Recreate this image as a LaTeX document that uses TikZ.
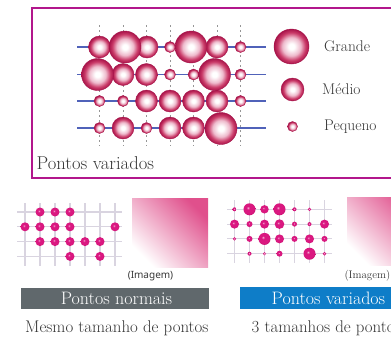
\documentclass[tikz,border=0pt]{standalone}
\usepackage{fontspec}
\newfontfamily\notosans{Noto Sans}
\definecolor{framecol}{RGB}{178,22,140}
\definecolor{bluel}{RGB}{80,98,185}
\definecolor{dashc}{RGB}{150,150,150}
\definecolor{ringlight}{RGB}{238,186,204}
\definecolor{ringmid}{RGB}{202,58,104}
\definecolor{ringdark}{RGB}{168,20,74}
\definecolor{gridc}{RGB}{217,212,224}
\definecolor{dotlight}{RGB}{248,190,220}
\definecolor{dotmag}{RGB}{218,24,128}
\definecolor{dotdark}{RGB}{176,10,96}
\definecolor{gradpink}{RGB}{224,80,140}
\definecolor{grayb}{RGB}{96,104,108}
\definecolor{blueb}{RGB}{14,125,200}
\definecolor{textc}{RGB}{55,55,55}
\pgfdeclareradialshading{pinkring}{\pgfpoint{0bp}{0bp}}{color(0bp)=(white); color(4bp)=(white); color(13bp)=(ringlight); color(20bp)=(ringmid); color(25bp)=(ringdark); color(50bp)=(ringdark)}
\pgfdeclareradialshading{magball}{\pgfpoint{-7bp}{7bp}}{color(0bp)=(dotlight); color(6bp)=(dotmag); color(22bp)=(dotmag); color(34bp)=(dotdark); color(50bp)=(dotdark)}
\tikzset{
  ring/.style={shading=pinkring, draw=ringdark, line width=0.4pt},
  mball/.style={shading=magball},
  gridline/.style={gridc, line width=1.1pt},
  frameline/.style={framecol, line width=2pt},
  txt/.style={inner sep=0pt, text=textc},
  legendtxt/.style={inner sep=0pt, anchor=west, text=textc, font=\fontsize{15.5}{18}\selectfont},
  bartxt/.style={inner sep=0pt, text=white, font=\fontsize{18}{20}\selectfont},
  captxt/.style={inner sep=0pt, anchor=west, text=textc, font=\fontsize{16.9}{19}\selectfont},
  gradsq/.style={top color=gradpink, bottom color=white, shading angle=-45}
}
\begin{document}
\begin{tikzpicture}[x=1pt,y=-1pt]
\clip (0,0) rectangle (391,338);
\fill[white] (0,0) rectangle (391,338);

% ---- top panel ----
\coordinate (ftl) at (31.5,7.5);
\coordinate (ftr) at (400,7.5);
\coordinate (fbl) at (31.5,178);
\coordinate (fbr) at (400,178);
\draw[frameline] (ftr) -- (ftl) -- (fbl) -- (fbr);
\foreach \x in {99.5,123,146.5,170,193.5,217,240.5}
  \draw[dashc, line width=0.8pt, dash pattern=on 2pt off 3pt] (\x,25) -- (\x,146);
\foreach \y in {47,74.5,101,128}
  \draw[bluel, line width=1.8pt] (77,\y) -- (266,\y);
% small
\foreach \x/\y in {170/47, 240.5/47, 170/74.5, 193.5/74.5, 240.5/74.5, 99.5/101, 123/101, 240.5/101, 99.5/128, 146.5/128}
  \shade[ring] (\x,\y) circle[radius=5.5pt];
% medium
\foreach \x/\y in {99.5/47, 147/47, 217/47, 123/74.5, 146.5/74.5, 146.5/101, 170/101, 193.5/101, 217/101, 123/128, 170/128, 193.5/128}
  \shade[ring] (\x,\y) circle[radius=11pt];
% large
\foreach \x/\y in {125/47, 191/47, 97.5/74.5, 214.5/74.5, 221/128.5}
  \shade[ring] (\x,\y) circle[radius=16pt];
% legend
\shade[ring] (291.5,46.5) circle[radius=17.5pt];
\shade[ring] (292.5,89.5) circle[radius=11.5pt];
\shade[ring] (292.5,126.5) circle[radius=5pt];
\node[legendtxt] (lg) at (324,46.5) {Grande};
\node[legendtxt] (lm) at (322,89) {Médio};
\node[legendtxt] (lp) at (324,127) {Pequeno};
\node[txt, anchor=base west, font=\fontsize{18.6}{21}\selectfont] (toptitle) at (36.5,169.5) {Pontos variados};

% ---- bottom left ----
\foreach \x in {25,40,55,70,85,100,115}
  \draw[gridline] (\x,203) -- (\x,266);
\foreach \y in {212,226.8,241.6,256.4}
  \draw[gridline] (17,\y) -- (122,\y);
\foreach \x/\y in {40/212, 55/212, 70/212,
                   25/226.8, 40/226.8, 55/226.8, 70/226.8, 115/226.8,
                   40/241.6, 55/241.6, 70/241.6, 85/241.6, 100/241.6,
                   70/256.4, 100/256.4}
  \shade[mball] (\x,\y) circle[radius=4.5pt];
\shade[gradsq] (132,198) rectangle (208,267);
\node[txt, font=\notosans\fontsize{10}{12}\selectfont] (img1) at (150.5,276.5) {(Imagem)};
\fill[grayb] (20.5,287.5) rectangle (208.5,308.5);
\node[bartxt] (bar1) at (116.5,298) {Pontos normais};
\node[captxt] (cap1) at (25,328) {Mesmo tamanho de pontos};

% ---- bottom right ----
\foreach \x in {234.5,249.5,264.5,279.5,294.5,309.5,324.5}
  \draw[gridline] (\x,200) -- (\x,263);
\foreach \y in {209.3,224.1,238.9,253.7}
  \draw[gridline] (227,\y) -- (332,\y);
\foreach \x/\y/\r in {234.5/209.3/2, 249.5/209.3/6, 264.5/209.3/4.2, 279.5/209.3/6, 294.5/209.3/2, 309.5/209.3/1.8,
                      234.5/224.1/4.5, 249.5/224.1/3, 264.5/224.1/4.5, 279.5/224.1/4.8, 294.5/224.1/2.5, 309.5/224.1/2, 324.5/224.1/4.5,
                      234.5/238.9/1.8, 249.5/238.9/3, 264.5/238.9/6, 279.5/238.9/4.5, 294.5/238.9/3, 309.5/238.9/4.5, 324.5/238.9/3,
                      249.5/253.7/2, 264.5/253.7/1.6, 279.5/253.7/3, 309.5/253.7/6, 324.5/253.7/1.8}
  \shade[mball] (\x,\y) circle[radius=\r pt];
\shade[gradsq] (347,197) rectangle (423,265);
\node[txt, anchor=east, font=\fontsize{11}{13}\selectfont] (img2) at (390.5,275.7) {(Imagem)};
\fill[blueb] (239.5,287) rectangle (430,308.5);
\node[bartxt, anchor=west] (bar2) at (271.5,298) {Pontos variados};
\node[captxt] (cap2) at (251.5,328) {3 tamanhos de pontos};
\end{tikzpicture}
\end{document}
